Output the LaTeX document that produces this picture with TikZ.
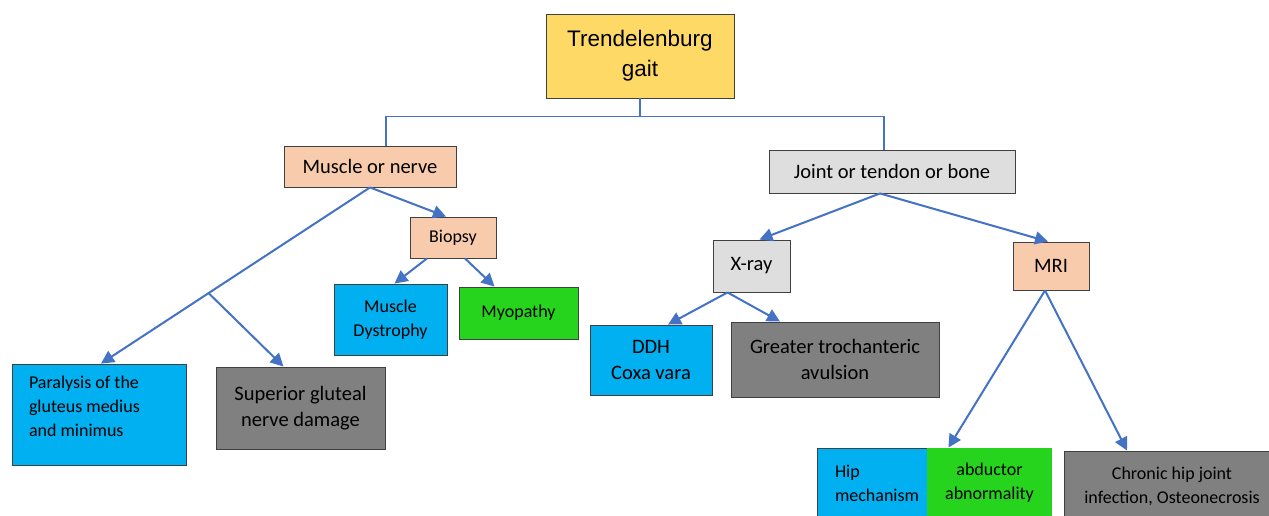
\documentclass[tikz,border=0pt]{standalone}
\usepackage{fontspec}
\setmainfont{Carlito}
\newfontfamily\titlefont{Liberation Sans}
\usetikzlibrary{arrows.meta,calc}
\definecolor{peach}{HTML}{F8CBAD}
\definecolor{gold}{HTML}{FFD966}
\definecolor{lightgrey}{HTML}{DEDEDE}
\definecolor{cyanbox}{HTML}{00B0F0}
\definecolor{greenbox}{HTML}{26D41E}
\definecolor{darkbox}{HTML}{808080}
\definecolor{edgeline}{HTML}{404040}
\definecolor{linkblue}{HTML}{4472C4}
\tikzset{
  box/.style={draw=edgeline, line width=0.9pt, inner sep=0pt, align=center, anchor=center},
  bigtext/.style={font=\fontsize{20.5}{26.5}\selectfont},
  smalltext/.style={font=\fontsize{18}{24}\selectfont},
  link/.style={draw=linkblue, line width=1.1pt},
  arr/.style={draw=linkblue, line width=2pt, -{Triangle[length=13pt,width=13pt]}},
}
\begin{document}
\begin{tikzpicture}[x=1pt,y=-1pt]
\useasboundingbox (0,0) rectangle (1269,516);
\fill[white] (0,0) rectangle (1269,516);

% level 0
\node[box, fill=gold, minimum width=188, minimum height=84,
      font=\titlefont\fontsize{22.5}{30}\selectfont] (title) at (640,56)
  {Trendelenburg\\gait};

% level 1
\node[box, bigtext, fill=peach, minimum width=172, minimum height=41] (muscle) at (370,166.5)
  {Muscle or nerve};
\node[box, bigtext, fill=lightgrey, minimum width=246, minimum height=43] (joint) at (892,171.5)
  {Joint or tendon or bone};

% muscle branch
\node[box, smalltext, fill=peach, minimum width=86, minimum height=41] (biopsy) at (453,237.5)
  {Biopsy};
\node[box, smalltext, fill=cyanbox, minimum width=113, minimum height=71] (mdys) at (390.5,319.5)
  {Muscle\\Dystrophy};
\node[box, smalltext, fill=greenbox, minimum width=119, minimum height=52] (myo) at (518.5,313)
  {Myopathy};
\node[box, smalltext, fill=cyanbox, text width=140, inner xsep=17, align=flush left, minimum height=101] (paralysis) at (99,414.5)
  {Paralysis of the\\gluteus medius\\and minimus\\[-14pt]\strut};
\node[box, bigtext, fill=darkbox, minimum width=169, minimum height=82] (superior) at (300.5,408)
  {Superior gluteal\\nerve damage};

% joint branch
\node[box, bigtext, fill=lightgrey, minimum width=77, minimum height=52] (xray) at (751.5,266)
  {X-ray};
\node[box, bigtext, fill=peach, minimum width=76, minimum height=48] (mri) at (1051,266)
  {MRI};
\node[box, bigtext, fill=cyanbox, minimum width=122, minimum height=70] (ddh) at (651,360)
  {DDH\\Coxa vara};
\node[box, bigtext, fill=darkbox, minimum width=208, minimum height=75] (greater) at (835,359.5)
  {Greater trochanteric\\avulsion};
\node[box, smalltext, fill=cyanbox, text width=74, inner xsep=18, align=flush left, minimum height=70] (hip) at (872,483)
  {Hip\\mechanism};
\node[box, smalltext, draw=none, fill=greenbox, minimum width=125, minimum height=70] (abd) at (989.5,483)
  {abductor\\abnormality};
\node[box, smalltext, fill=darkbox, minimum width=216, minimum height=70] (chronic) at (1172,486)
  {Chronic hip joint\\infection, Osteonecrosis};

% top bracket
\draw[link] (title.south) -- ++(0,18) coordinate (hub);
\draw[link] ([xshift=16]muscle.north) |- (hub) -| ([xshift=-8]joint.north);

% muscle or nerve arrows
\draw[arr] (muscle.south) -- ([xshift=-7]biopsy.north);
\draw[arr] (muscle.south) -- ([xshift=2]paralysis.north);
\path (muscle.south) -- ([xshift=2]paralysis.north) coordinate[pos=0.6] (br);
\draw[arr] (br) -- ([xshift=-17]superior.north);
\draw[arr] ([xshift=-26]biopsy.south) -- ([xshift=4]mdys.north);
\draw[arr] ([xshift=12]biopsy.south) -- ([xshift=-24]myo.north);

% joint or tendon or bone arrows
\draw[arr] ([xshift=-12]joint.south) -- ([xshift=8]xray.north);
\draw[arr] ([xshift=-12]joint.south) -- ([xshift=-3]mri.north);
\draw[arr] ([xshift=-24]xray.south) -- ([xshift=17]ddh.north);
\draw[arr] ([xshift=-24]xray.south) -- ([xshift=-55]greater.north);
\draw[arr] ([xshift=-6]mri.south) -- ([xshift=21]hip.north east);
\draw[arr] ([xshift=-6]mri.south) -- ([xshift=-45]chronic.north);
\end{tikzpicture}
\end{document}
